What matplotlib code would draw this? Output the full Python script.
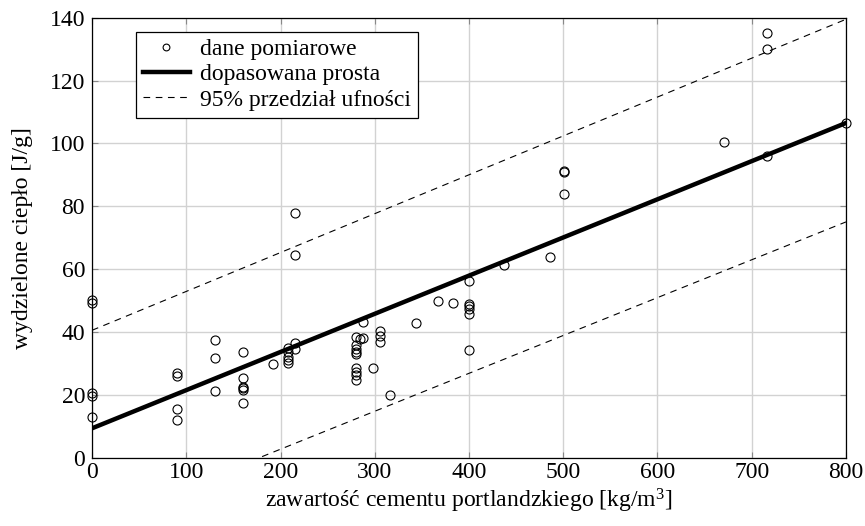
import matplotlib
matplotlib.use("Agg")
import matplotlib.pyplot as plt
import numpy as np

plt.rcParams['font.family'] = ['Liberation Serif', 'DejaVu Serif']
plt.rcParams['mathtext.fontset'] = 'custom'
plt.rcParams['mathtext.rm'] = 'Liberation Serif'
plt.rcParams['mathtext.it'] = 'Liberation Serif:italic'

# measured data
cement = [0, 0, 0, 0, 0,
          90, 90, 90, 90,
          131, 131, 131,
          160, 160, 160, 160, 160, 160,
          192,
          208, 208, 208, 208, 208,
          215, 215, 215, 215,
          280, 280, 280, 280, 280, 280, 280, 280, 280,
          284, 288, 288, 298,
          306, 306, 306, 316, 344, 367, 383,
          400, 400, 400, 400, 400, 400,
          437, 486, 501, 501, 501,
          671, 716, 716, 716, 800]
heat = [49.3, 50.0, 20.5, 19.6, 12.8,
        26.8, 26.0, 15.4, 11.9,
        37.4, 31.7, 21.2,
        33.5, 25.3, 22.6, 22.0, 21.6, 17.5,
        29.8,
        35.0, 33.5, 32.0, 31.0, 30.0,
        36.6, 34.6, 77.7, 64.6,
        38.5, 35.7, 34.6, 33.6, 32.8, 28.5, 27.3, 26.2, 24.6,
        37.6, 43.1, 38.2, 28.6,
        40.3, 38.7, 36.7, 19.9, 42.8, 49.9, 49.1,
        56.2, 48.9, 48.1, 47.2, 45.7, 34.1,
        61.2, 63.7, 91.0, 91.3, 83.9,
        100.3, 135.2, 130.0, 96.1, 106.4]

# fitted line and 95% interval
line_x = [0, 400, 800]
fit_y = [9.3, 57.9, 106.5]
upper_y = [40.5, 90.0, 139.5]
lower_y = [-21.5, 26.8, 75.0]

FS = 17

fig = plt.figure(figsize=(8.65, 5.26), dpi=100)
ax = fig.add_axes([0.1064, 0.1302, 0.8716, 0.8361])

ax.plot(cement, heat, 'o', mfc='none', mec='black', ms=6.5, mew=0.8,
        clip_on=False, zorder=5, label='dane pomiarowe')
ax.plot(line_x, fit_y, '-', color='black', lw=3.2, zorder=4,
        label='dopasowana prosta')
ax.plot(line_x, upper_y, '--', color='black', lw=0.8, dashes=(6, 5),
        zorder=3, label='95% przedział ufności')
ax.plot(line_x, lower_y, '--', color='black', lw=0.8, dashes=(6, 5), zorder=3)

ax.set_xlim(0, 800)
ax.set_ylim(0, 140)
ax.set_xticks(np.arange(0, 801, 100))
ax.set_yticks(np.arange(0, 141, 20))
ax.grid(True, color='#d2d2d2', lw=1.0)
ax.set_axisbelow(True)
ax.tick_params(direction='in', length=4, width=0.8, top=True, right=True,
               labelsize=FS, color='#888888')
ax.tick_params(axis='x', pad=3)
ax.tick_params(axis='y', pad=5)
for s in ax.spines.values():
    s.set_linewidth(0.9)
    s.set_color('black')

ax.set_xlabel('zawartość cementu portlandzkiego [kg/m$^3$]', fontsize=FS, labelpad=3)
ax.set_ylabel('wydzielone ciepło [J/g]', fontsize=FS, labelpad=12)

leg = ax.legend(loc='upper left', bbox_to_anchor=(0.058, 0.968), fontsize=FS,
                frameon=True, fancybox=False, edgecolor='black', framealpha=1,
                handlelength=2.0, handletextpad=0.4, borderpad=0.3,
                labelspacing=0.15, markerscale=0.75, borderaxespad=0)
leg.get_frame().set_linewidth(0.9)

fig.savefig('out.png', dpi=100)
